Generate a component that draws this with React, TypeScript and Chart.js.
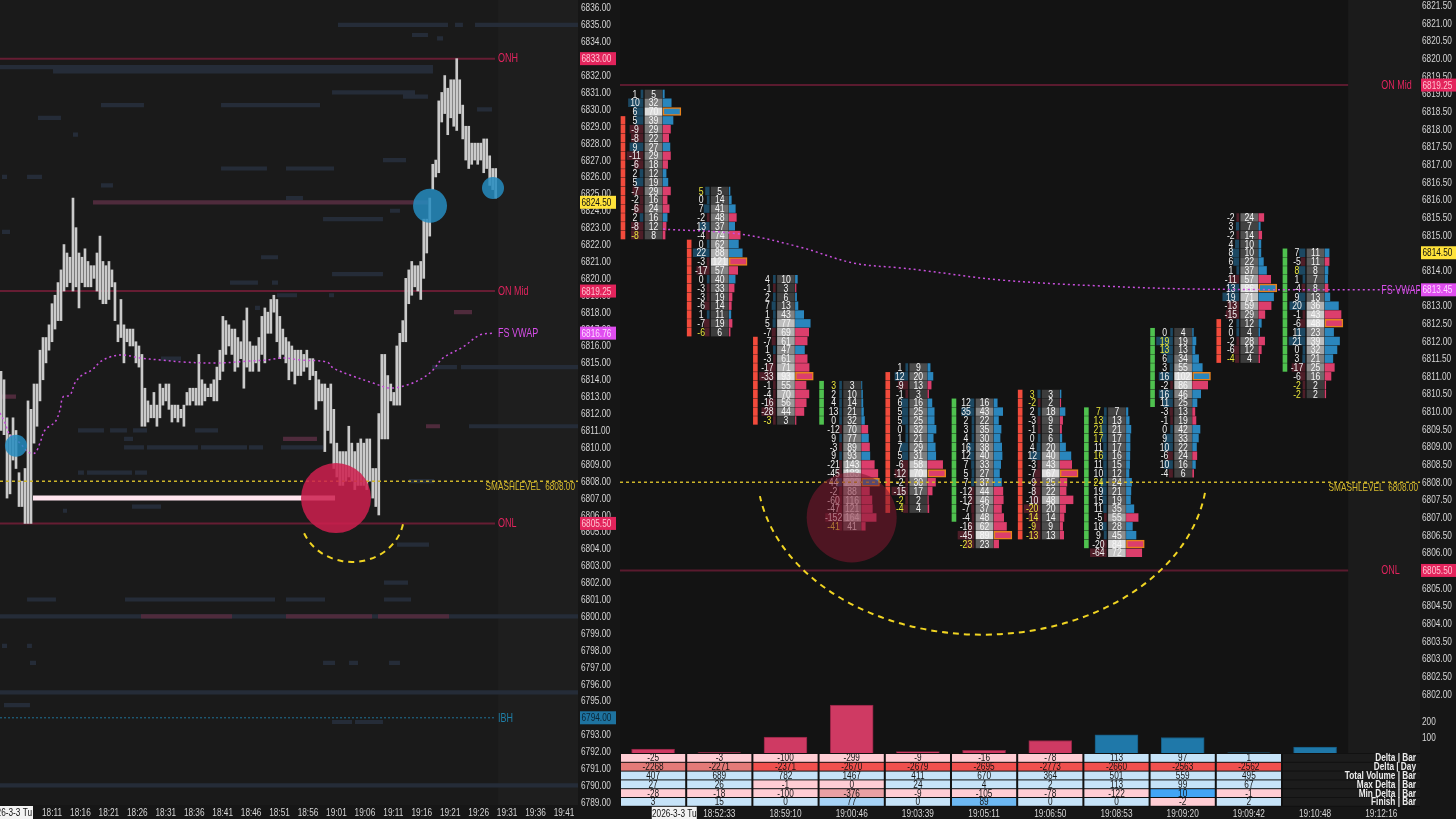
import React, { useEffect, useRef } from 'react';
import { Chart, registerables } from 'chart.js';

Chart.register(...registerables);

const FONT = '"Liberation Sans", Arial, sans-serif';
Chart.defaults.font.family = FONT;
const SX = 0.75; // horizontal squeeze to mimic the narrow platform font

// ================= LEFT PANEL DATA =================
const leftTimeLabels = ['18:11', '18:16', '18:21', '18:26', '18:31', '18:36', '18:41', '18:46', '18:51', '18:56', '19:01', '19:06', '19:11', '19:16', '19:21', '19:26', '19:31', '19:36', '19:41'];
const leftPriceTicks = [6789, 6790, 6791, 6792, 6793, 6794, 6795, 6796, 6797, 6798, 6799, 6800, 6801, 6802, 6803, 6804, 6805, 6806, 6807, 6808, 6809, 6810, 6811, 6812, 6813, 6814, 6815, 6816, 6817, 6818, 6819, 6820, 6821, 6822, 6823, 6824, 6825, 6826, 6827, 6828, 6829, 6830, 6831, 6832, 6833, 6834, 6835, 6836];
const leftFirstBarMinute = 2.04; // minutes after 18:00
const leftBarStepMinute = 0.527;
const leftHighs = [
  6814.5, 6814.0, 6811.75, 6810.75, 6811.75, 6811.0, 6808.5, 6808.0, 6808.75, 6812.75,
  6812.25, 6813.75, 6813.75, 6815.75, 6816.5, 6816.5, 6817.25, 6818.5, 6819.0, 6819.75,
  6820.5, 6822.0, 6821.5, 6821.25, 6824.75, 6823.0, 6821.5, 6821.25, 6821.75, 6821.0,
  6820.75, 6820.75, 6821.5, 6822.5, 6821.0, 6820.75, 6821.0, 6820.5, 6819.75, 6817.25,
  6818.75, 6817.25, 6817.0, 6817.0, 6817.0, 6816.25, 6816.0, 6815.5, 6813.5, 6812.75,
  6812.5, 6813.25, 6812.5, 6813.75, 6813.5, 6813.75, 6813.75, 6812.5, 6812.5, 6812.5,
  6812.25, 6812.5, 6813.25, 6813.5, 6813.5, 6813.5, 6815.5, 6814.0, 6813.75, 6813.5,
  6813.75, 6814.0, 6814.75, 6815.75, 6817.75, 6817.5, 6817.25, 6817.0, 6817.0, 6816.5,
  6816.25, 6817.5, 6818.25, 6816.25, 6816.0, 6816.0, 6816.5, 6817.75, 6818.25, 6818.0,
  6818.75, 6819.0, 6818.75, 6817.75, 6817.0, 6816.5, 6816.25, 6816.0, 6815.75, 6815.75,
  6815.75, 6815.5, 6815.75, 6815.25, 6815.25, 6814.5, 6814.0, 6813.75, 6813.75, 6813.5,
  6813.75, 6812.25, 6810.25, 6809.75, 6809.75, 6809.75, 6811.25, 6810.25, 6809.75, 6810.25,
  6810.5, 6810.25, 6810.5, 6810.5, 6808.75, 6808.75, 6812.0, 6815.5, 6815.5, 6814.25,
  6813.75, 6813.25, 6816.0, 6816.75, 6817.5, 6820.0, 6820.5, 6821.0, 6820.75, 6820.75,
  6821.0, 6823.5, 6823.5, 6824.75, 6826.75, 6827.0, 6830.5, 6831.0, 6832.0, 6831.25,
  6831.75, 6831.75, 6833.0, 6831.75, 6830.25, 6829.0, 6829.0, 6828.0, 6828.0, 6828.0,
  6828.0, 6828.25, 6828.25, 6827.25, 6826.5, 6826.5,
];
const leftLows = [
  6811.0, 6810.75, 6807.0, 6807.25, 6809.25, 6808.75, 6806.5, 6806.5, 6805.5, 6805.5,
  6805.5, 6810.25, 6811.25, 6812.75, 6814.0, 6815.0, 6815.75, 6816.25, 6817.0, 6817.5,
  6817.5, 6819.25, 6819.5, 6819.75, 6819.25, 6819.5, 6818.25, 6819.75, 6819.5, 6819.5,
  6819.5, 6820.0, 6819.25, 6818.75, 6818.5, 6818.5, 6818.75, 6819.5, 6817.5, 6816.25,
  6816.5, 6815.0, 6816.25, 6816.0, 6816.0, 6815.0, 6814.75, 6811.25, 6811.25, 6811.5,
  6811.75, 6811.75, 6811.25, 6811.75, 6812.5, 6812.75, 6812.25, 6811.5, 6811.75, 6811.5,
  6811.75, 6811.25, 6812.5, 6812.5, 6812.75, 6812.5, 6812.5, 6812.5, 6812.75, 6813.0,
  6813.0, 6812.75, 6812.75, 6814.0, 6814.5, 6815.5, 6816.0, 6815.5, 6814.5, 6814.75,
  6815.25, 6813.5, 6814.75, 6814.5, 6814.5, 6815.0, 6814.5, 6815.5, 6815.0, 6816.75,
  6816.75, 6818.0, 6816.25, 6815.25, 6815.5, 6815.0, 6814.0, 6814.5, 6813.75, 6814.25,
  6814.25, 6814.5, 6814.75, 6814.0, 6814.25, 6812.25, 6812.75, 6812.75, 6809.75, 6811.0,
  6810.25, 6808.75, 6808.25, 6807.75, 6807.75, 6808.0, 6808.25, 6808.0, 6807.5, 6807.75,
  6807.75, 6807.75, 6807.5, 6808.0, 6807.0, 6806.5, 6806.0, 6810.5, 6810.5, 6810.5,
  6812.75, 6812.5, 6812.5, 6812.5, 6816.25, 6816.25, 6818.5, 6819.0, 6819.5, 6819.25,
  6818.75, 6820.0, 6821.5, 6822.5, 6825.25, 6826.0, 6826.25, 6829.25, 6829.75, 6828.5,
  6829.5, 6829.0, 6828.75, 6829.75, 6828.25, 6827.0, 6826.5, 6826.75, 6827.0, 6826.75,
  6827.0, 6826.25, 6826.5, 6825.5, 6825.25, 6824.75,
];
const leftVwapMinutes = [1.86, 2.74, 3.62, 5.38, 6.78, 8.01, 8.89, 9.77, 11.53, 12.41, 12.93, 14.17, 15.04, 16.27, 18.03, 19.44, 21.2, 23.48, 26.47, 29.98, 34.03, 40.0, 45.8, 48.79, 51.6, 54.59, 59.34, 60.39, 63.38, 67.42, 70.41, 73.4, 76.21, 77.97, 79.73, 83.24, 86.23, 88.52];
const leftVwapPrices = [6812.04, 6811.44, 6810.73, 6810.26, 6809.73, 6809.67, 6810.26, 6811.03, 6811.5, 6812.21, 6812.98, 6813.1, 6813.81, 6814.28, 6814.58, 6815.05, 6815.35, 6815.47, 6815.29, 6815.17, 6815.05, 6814.99, 6815.11, 6815.17, 6815.29, 6815.17, 6815.05, 6814.7, 6814.28, 6813.81, 6813.51, 6813.69, 6814.11, 6814.58, 6815.29, 6815.94, 6816.65, 6816.76];
const leftLevelPrices = [6833.0, 6819.25, 6805.5];
const leftLevelNames = ['ONH', 'ON Mid', 'ONL'];
const ibhPrice = 6794.0;
const smashPrice = 6808.0;
const leftVwapLast = 6816.76;
const leftLastPrice = 6824.5;
const leftHighlightLine = [7.66, 60.75, 6807.0]; // from, to (minutes), price
const leftRedCircle = [60.92, 6807.0];
const leftBlueCircles = [[77.45, 6824.3, 17], [88.52, 6825.35, 11], [4.67, 6810.1, 11]];
const leftArc = [63.74, 6806.0, 9.14, 2.78]; // centre minute, centre price, half-width (min), half-height (pts)
// liquidity stripes: [price, from minute, to minute]
const leftSlateSegments = [
  [6835.0, 61.27, 80.61], [6835.0, 81.84, 83.24], [6835.0, 85.35, 103.46],
  [6834.4, 74.28, 77.09], [6834.2, 78.68, 79.73],
  [6832.5, 1.86, 77.97], [6832.25, 11.18, 77.97],
  [6831.0, 60.22, 74.81], [6830.75, 72.7, 77.09],
  [6830.25, 19.61, 27.17], [6830.25, 40.71, 58.11],
  [6830.0, 85.71, 88.34], [6829.5, 8.54, 12.58], [6828.5, 14.69, 15.57],
  [6827.0, 69.18, 73.23],
  [6826.5, 40.71, 48.79], [6826.5, 52.13, 60.57],
  [6826.0, 2.21, 3.09], [6826.0, 6.61, 9.24], [6825.5, 19.61, 21.72],
  [6824.75, 52.13, 55.12], [6824.0, 70.41, 72.17], [6823.5, 58.64, 69.18],
  [6822.75, 2.21, 3.62], [6821.25, 47.74, 50.73], [6820.25, 60.22, 69.18],
  [6819.75, 42.29, 47.21], [6819.75, 49.67, 50.73],
  [6819.0, 50.55, 54.07], [6819.0, 59.69, 60.57], [6818.25, 46.68, 47.56],
  [6815.25, 30.16, 33.68],
  [6814.75, 77.8, 82.19], [6814.75, 82.89, 103.46],
  [6811.25, 84.3, 103.46],
  [6811.0, 15.57, 20.14], [6811.0, 21.2, 24.18], [6811.0, 25.24, 27.7], [6811.0, 36.14, 40.18],
  [6810.5, 23.66, 25.24],
  [6810.0, 23.66, 27.17], [6810.0, 27.7, 36.66], [6810.0, 37.19, 45.28], [6810.0, 45.63, 48.09], [6810.0, 51.25, 58.64],
  [6808.5, 15.57, 16.62], [6808.5, 17.15, 25.06], [6808.5, 25.59, 27.7],
  [6808.0, 73.75, 78.15], [6806.5, 25.06, 30.16], [6806.25, 12.93, 13.64],
  [6804.25, 71.64, 77.27], [6802.0, 69.36, 73.58],
  [6801.0, 6.61, 11.7], [6801.0, 23.83, 50.2], [6801.0, 52.13, 58.99], [6801.0, 69.36, 74.11],
  [6800.0, 1.86, 103.46],
  [6798.25, 2.21, 3.09], [6798.25, 6.61, 7.48],
  [6797.25, 7.13, 8.19], [6797.25, 58.64, 60.75], [6797.25, 63.21, 64.79], [6797.25, 70.24, 72.17],
  [6795.5, 1.86, 103.46], [6794.75, 2.56, 7.13],
  [6793.75, 60.22, 63.74], [6793.75, 64.26, 69.18],
  [6790.0, 1.86, 103.46],
];
const leftPinkSegments = [
  [6824.5, 18.21, 77.09], [6818.0, 81.66, 84.83], [6813.0, 1.86, 4.67], [6811.25, 76.74, 79.2],
  [6810.5, 51.61, 57.58], [6800.0, 26.64, 42.64], [6800.0, 52.13, 67.25], [6800.0, 68.3, 80.79],
];

// ================= RIGHT PANEL DATA (footprint) =================
const rightPriceTicks = [6802, 6802.5, 6803, 6803.5, 6804, 6804.5, 6805, 6805.5, 6806, 6806.5, 6807, 6807.5, 6808, 6808.5, 6809, 6809.5, 6810, 6810.5, 6811, 6811.5, 6812, 6812.5, 6813, 6813.5, 6814, 6814.5, 6815, 6815.5, 6816, 6816.5, 6817, 6817.5, 6818, 6818.5, 6819, 6819.5, 6820, 6820.5, 6821, 6821.5];
const rightTimeLabels = ['2026-3-3 Tu', '18:52:33', '18:59:10', '19:00:46', '19:03:39', '19:05:11', '19:06:50', '19:08:53', '19:09:20', '19:09:42', '19:10:48', '19:12:16'];
const fpTopPrices = [6819.0, 6816.25, 6813.75, 6810.75, 6811.25, 6810.25, 6810.5, 6810.0, 6812.25, 6815.5, 6814.5];
const fpDeltas = [
  [1, 10, 6, 5, -9, -8, 9, -11, -6, 2, 5, -7, -2, -6, 2, -8, -8],
  [5, 0, 7, -2, 13, -4, 0, 22, -3, -17, 0, -3, -3, -6, 1, -7, -6],
  [4, -1, 2, 7, 1, 5, -7, -7, 1, -3, -17, -33, -1, -4, -16, -28, -3],
  [3, 2, 4, 13, 0, -12, 9, -3, 9, -21, -45, 44, -2, -60, -47, -152, -41],
  [1, 12, -9, -1, 6, 5, 5, 0, 1, 7, 5, -6, -12, -2, -15, -2, -4],
  [12, 35, 2, 3, 4, 16, 12, 7, 5, 7, -12, -12, -7, -4, -16, -45, -23],
  [3, -2, 2, -3, -1, 0, 4, 12, -3, -7, -9, -8, -10, -20, -14, -9, -13],
  [7, 13, 21, 17, 11, 16, 11, 10, 24, 19, 15, 11, -5, 18, 9, -20, -64],
  [0, 19, 13, 6, 3, 16, -2, 16, 11, -3, -1, 0, 9, 10, -6, 10, -4],
  [-2, 3, -2, 4, 8, 6, 1, -11, 13, 19, -13, -15, 2, 0, -2, -6, -4],
  [7, -5, 8, 1, -4, 9, 20, -1, -6, 11, 21, 0, 3, -17, -6, -2, -2],
];
const fpVolumes = [
  [5, 32, 70, 39, 29, 22, 27, 29, 18, 12, 19, 29, 16, 24, 16, 12, 8],
  [5, 14, 41, 48, 37, 74, 62, 88, 121, 57, 40, 33, 19, 14, 11, 19, 6],
  [10, 3, 6, 13, 43, 77, 69, 61, 47, 61, 71, 93, 55, 70, 56, 44, 3],
  [3, 10, 14, 21, 32, 70, 77, 89, 93, 143, 183, 202, 88, 116, 121, 164, 41],
  [9, 20, 13, 3, 16, 25, 25, 32, 21, 29, 31, 58, 70, 30, 17, 2, 4],
  [16, 43, 22, 35, 30, 38, 40, 33, 27, 37, 44, 46, 37, 48, 62, 89, 23],
  [3, 2, 18, 9, 5, 6, 20, 40, 43, 67, 25, 22, 48, 20, 14, 9, 13],
  [7, 13, 21, 17, 17, 16, 15, 12, 24, 21, 19, 35, 55, 28, 45, 84, 72],
  [4, 19, 13, 34, 55, 102, 86, 46, 25, 13, 19, 42, 33, 22, 24, 16, 6],
  [24, 7, 14, 10, 10, 22, 37, 57, 86, 71, 59, 29, 12, 4, 28, 12, 4],
  [11, 11, 8, 7, 8, 13, 36, 43, 48, 23, 39, 32, 21, 25, 16, 2, 2],
];
const fpStripTop = [6818.25, 6814.75, 6812.0, 6810.75, 6811.0, 6810.25, 6810.5, 6810.0, 6812.25, 6812.5, 6814.5];
const fpStripBottom = [6815.0, 6812.25, 6809.75, 6809.75, 6807.25, 6807.0, 6806.5, 6806.25, 6810.25, 6811.5, 6811.25];
const fpStripUp = [false, false, false, true, false, true, false, true, true, false, true];
const rightVwapCols = [0.65, 1.81, 2.72, 3.52, 4.23, 4.53, 5.74, 7.25, 8.76, 12.085];
const rightVwapPrices = [6815.17, 6815.03, 6814.66, 6814.21, 6814.07, 6814.01, 6813.73, 6813.56, 6813.47, 6813.45];
const rightLevelPrices = [6819.25, 6805.5];
const rightLevelNames = ['ON Mid', 'ONL'];
const rightVwapLast = 6813.45;
const rightLastPrice = 6814.5;
const rightCircle = [3.5, 6807.0];
const rightArc = [5.47, 6808.35, 3.4, 4.67];

// bottom study + table
const barDeltas = [-25, -3, -100, -299, -9, -16, -78, 113, 97, 1, 37];
const tblDeltaBar = [-25, -3, -100, -299, -9, -16, -78, 113, 97, 1];
const tblDeltaDay = [-2268, -2271, -2371, -2670, -2679, -2695, -2773, -2660, -2563, -2562];
const tblTotalVolume = [407, 689, 782, 1467, 411, 670, 364, 501, 559, 495];
const tblMaxDelta = [27, 26, -1, 0, 24, 4, 2, 113, 99, 67];
const tblMinDelta = [-28, -18, -100, -376, -9, -105, -78, -122, 10, -1];
const tblFinish = [3, 15, 0, 77, 0, 89, 0, 0, -2, 2];
const tblRowNames = ['Delta | Bar', 'Delta | Day', 'Total Volume | Bar', 'Max Delta | Bar', 'Min Delta | Bar', 'Finish | Bar'];
const studyTicks = [100, 200];

// ================= GEOMETRY / STYLE =================
const LX_MIN = 1.86, LX_MAX = 103.46, LY_MIN = 6788.84, LY_MAX = 6836.47;
const L_LEVEL_END = 88.87, L_LABEL_AT = 89.4;
const RX_MAX = 12.085, RY_MIN = 6801.83, RY_MAX = 6821.66;
const R_FUTURE = 11;
const ROW = 0.25;
const CELL = { stripL: 0.015, stripR: 0.075, deltaL: 0.106, deltaR: 0.347, volL: 0.378, volR: 0.635, barL: 0.65, barW: 0.27 };
const C = {
  axisBg: '#161616', leftBg: '#1a1a1a', leftFuture: '#1e1e1e', rightBg: '#131313', rightFuture: '#1b1b1b',
  level: '#661d33', levelText: '#e0245e', smash: '#cdb52a', smashText: '#d6ba2e', vwap: '#c84fdc', vwapText: '#d64ee8',
  ibh: '#1f7196', tick: '#d6d6d6',
};
const LAYOUT = { padding: 0, autoPadding: false };
const HIDDEN_TICKS = { display: false };

const toMin = (t) => { const [h, m] = t.split(':').map(Number); return (h - 18) * 60 + m; };
const zeroPad = (s) => { s.paddingLeft = 0; s.paddingRight = 0; s.paddingTop = 0; s.paddingBottom = 0; };

// narrow text helper
function ntext(ctx, text, x, y, align, size, color, weight = '') {
  ctx.save();
  ctx.font = `${weight} ${size}px ${FONT}`;
  ctx.fillStyle = color;
  ctx.textAlign = align;
  ctx.textBaseline = 'middle';
  ctx.translate(x, y);
  ctx.scale(SX, 1);
  ctx.fillText(text, 0, 0);
  ctx.restore();
}

const lineDs = (data, color, width, dash, order, extra = {}) => ({
  type: 'line', data, borderColor: color, borderWidth: width, borderDash: dash, pointRadius: 0,
  fill: false, spanGaps: false, order, borderCapStyle: 'butt', ...extra,
});

function axisBox(ctx, x, y, w, text, bg, fg) {
  ctx.fillStyle = bg;
  ctx.fillRect(x, y - 6.5, w, 13);
  ntext(ctx, text, x + 1.5, y + 0.5, 'left', 11, fg);
}

function yTickLabels(ctx, scale, x) {
  scale.ticks.forEach((t) => ntext(ctx, Number(t.value).toFixed(2), x, scale.getPixelForValue(t.value) + 0.5, 'left', 11, C.tick));
}

function dashedArc(ctx, xs, ys, arc, a0, a1) {
  const [cx, cy, hw, hh] = arc;
  const px = xs.getPixelForValue(cx), py = ys.getPixelForValue(cy);
  const rx = Math.abs(xs.getPixelForValue(cx + hw) - px);
  const ry = Math.abs(ys.getPixelForValue(cy - hh) - py);
  ctx.save();
  ctx.strokeStyle = '#f0d422';
  ctx.lineWidth = 2;
  ctx.setLineDash([6, 5]);
  ctx.beginPath();
  ctx.ellipse(px, py, rx, ry, 0, a0, a1);
  ctx.stroke();
  ctx.restore();
}

// ================= LEFT CHART =================
function leftConfig() {
  const bars = leftHighs.map((h, i) => ({ x: leftFirstBarMinute + i * leftBarStepMinute, y: [leftLows[i], h] }));
  const seg = (list) => list.flatMap(([p, a, b]) => [{ x: a, y: p }, { x: b, y: p }, { x: b, y: null }]);
  const vwap = leftVwapMinutes.map((m, i) => ({ x: m, y: leftVwapPrices[i] }));
  const plugin = {
    id: 'leftDecor',
    beforeDraw(chart) {
      const { ctx, chartArea: a, scales: { x } } = chart;
      ctx.save();
      ctx.fillStyle = C.axisBg; ctx.fillRect(0, 0, chart.width, chart.height);
      ctx.fillStyle = C.leftBg; ctx.fillRect(a.left, a.top, a.width, a.height);
      const fx = x.getPixelForValue(L_LABEL_AT);
      ctx.fillStyle = C.leftFuture; ctx.fillRect(fx, a.top, a.right - fx, a.height);
      ctx.restore();
    },
    afterDatasetsDraw(chart) {
      const { ctx, chartArea: a, scales: { x, y } } = chart;
      dashedArc(ctx, x, y, leftArc, 0.2, Math.PI - 0.35);
      const lx = x.getPixelForValue(L_LABEL_AT);
      leftLevelPrices.forEach((p, i) => ntext(ctx, leftLevelNames[i], lx, y.getPixelForValue(p) + 0.5, 'left', 12, C.levelText));
      ntext(ctx, 'FS VWAP', lx, y.getPixelForValue(leftVwapLast) + 0.5, 'left', 12, C.vwapText);
      ntext(ctx, 'IBH', lx, y.getPixelForValue(ibhPrice) + 0.5, 'left', 12, '#1f7fa8');
      ntext(ctx, 'SMASHLEVEL  ' + smashPrice.toFixed(2), a.right - 3, y.getPixelForValue(smashPrice) + 6, 'right', 11, C.smashText);
    },
    afterDraw(chart) {
      const { ctx, chartArea: a, scales: { x, y } } = chart;
      ctx.save();
      ctx.fillStyle = C.axisBg; ctx.fillRect(a.right, 0, chart.width - a.right, chart.height);
      ctx.restore();
      yTickLabels(ctx, y, a.right + 3);
      x.ticks.forEach((t) => {
        const lbl = leftTimeLabels.find((s) => toMin(s) === t.value) || '';
        ntext(ctx, lbl, x.getPixelForValue(t.value), a.bottom + 8, 'center', 11, C.tick);
      });
      const bx = a.right + 2;
      axisBox(ctx, bx, y.getPixelForValue(leftLevelPrices[0]), 36, leftLevelPrices[0].toFixed(2), '#e3245c', '#ffc2d1');
      axisBox(ctx, bx, y.getPixelForValue(leftLastPrice), 36, leftLastPrice.toFixed(2), '#ffe23a', '#111111');
      axisBox(ctx, bx, y.getPixelForValue(leftLevelPrices[1]), 36, leftLevelPrices[1].toFixed(2), '#e3245c', '#ffc2d1');
      axisBox(ctx, bx, y.getPixelForValue(leftVwapLast), 36, leftVwapLast.toFixed(2), '#e04ef0', '#ffd8ff');
      axisBox(ctx, bx, y.getPixelForValue(leftLevelPrices[2]), 36, leftLevelPrices[2].toFixed(2), '#e3245c', '#ffc2d1');
      axisBox(ctx, bx, y.getPixelForValue(ibhPrice), 36, ibhPrice.toFixed(2), '#1e73a0', '#0b2433');
      // date box on the time axis
      ctx.save();
      ctx.fillStyle = '#f2f2f2'; ctx.fillRect(0, a.bottom + 1, 33, 13);
      ctx.restore();
      ntext(ctx, '2026-3-3 Tu', 32, a.bottom + 8, 'right', 11, '#111111');
    },
  };
  return {
    type: 'bar',
    data: {
      datasets: [
        { type: 'bubble', data: [{ x: leftRedCircle[0], y: leftRedCircle[1], r: 35 }], backgroundColor: 'rgba(205,32,78,0.86)', borderWidth: 0, order: 0 },
        { type: 'bubble', data: leftBlueCircles.map(([m, p, r]) => ({ x: m, y: p, r })), backgroundColor: 'rgba(38,140,192,0.85)', borderWidth: 0, order: 0 },
        lineDs([{ x: leftHighlightLine[0], y: leftHighlightLine[2] }, { x: leftHighlightLine[1], y: leftHighlightLine[2] }], '#ffe4ee', 5, [], 1),
        lineDs([{ x: LX_MIN, y: smashPrice }, { x: LX_MAX, y: smashPrice }], C.smash, 1.5, [3, 3], 2),
        lineDs(vwap, C.vwap, 1.5, [2, 3], 3, { tension: 0.35 }),
        { type: 'bar', data: bars, backgroundColor: '#cacaca', barThickness: 2, grouped: false, order: 4 },
        ...leftLevelPrices.map((p) => lineDs([{ x: LX_MIN, y: p }, { x: L_LEVEL_END, y: p }], C.level, 2, [], 5)),
        lineDs([{ x: LX_MIN, y: ibhPrice }, { x: L_LEVEL_END, y: ibhPrice }], C.ibh, 1, [2, 2], 6),
        lineDs(seg(leftPinkSegments), '#4f2b3c', 4.2, [], 7),
        lineDs(seg(leftSlateSegments), '#252c38', 4.2, [], 8),
      ],
    },
    options: {
      responsive: false, animation: false, devicePixelRatio: 1, events: [],
      layout: LAYOUT,
      plugins: { legend: { display: false }, tooltip: { enabled: false } },
      scales: {
        x: {
          type: 'linear', min: LX_MIN, max: LX_MAX, offset: false,
          grid: { display: false, drawTicks: false }, border: { display: false }, ticks: HIDDEN_TICKS,
          afterBuildTicks: (s) => { s.ticks = leftTimeLabels.map((t) => ({ value: toMin(t) })); },
          afterFit: (s) => { s.height = 14; zeroPad(s); },
        },
        y: {
          type: 'linear', position: 'right', min: LY_MIN, max: LY_MAX, offset: false,
          grid: { display: false, drawTicks: false }, border: { display: false }, ticks: HIDDEN_TICKS,
          afterBuildTicks: (s) => { s.ticks = leftPriceTicks.map((v) => ({ value: v })); },
          afterFit: (s) => { s.width = 42; zeroPad(s); },
        },
      },
    },
    plugins: [plugin],
  };
}

// ================= RIGHT CHART (footprint) =================
function buildFootprint() {
  const strips = [], deltaBg = [], volCells = [], volBars = [];
  fpTopPrices.forEach((top, c) => {
    const d = fpDeltas[c], v = fpVolumes[c];
    const maxV = Math.max(...v), maxD = Math.max(...d.map(Math.abs));
    v.forEach((vol, r) => {
      const price = top - r * ROW;
      const dw = Math.max(0.03, (Math.abs(d[r]) / maxD) * (CELL.deltaR - CELL.deltaL));
      deltaBg.push({ y: price, x: [c + CELL.deltaR - dw, c + CELL.deltaR], pos: d[r] >= 0 });
      volCells.push({ y: price, x: [c + CELL.volL, c + CELL.volR], shade: vol / maxV });
      volBars.push({ y: price, x: [c + CELL.barL, c + CELL.barL + (vol / maxV) * CELL.barW], pos: d[r] >= 0, max: vol === maxV });
    });
    for (let p = fpStripTop[c]; p >= fpStripBottom[c] - 1e-6; p -= ROW) {
      strips.push({ y: p, x: [c + CELL.stripL, c + CELL.stripR], up: fpStripUp[c] });
    }
  });
  return { strips, deltaBg, volCells, volBars };
}

function rightConfig() {
  const fp = buildFootprint();
  const raw = (c) => (c && c.raw) || {};
  const hbar = (label, data, bg, order, extra = {}) => ({
    type: 'bar', label, indexAxis: 'y', data, backgroundColor: bg, barThickness: 7.8, grouped: false,
    borderSkipped: false, borderWidth: 0, order, ...extra,
  });
  const plugin = {
    id: 'rightDecor',
    beforeDraw(chart) {
      const { ctx, chartArea: a, scales: { x } } = chart;
      ctx.save();
      ctx.fillStyle = C.axisBg; ctx.fillRect(0, 0, chart.width, chart.height);
      ctx.fillStyle = C.rightBg; ctx.fillRect(a.left, a.top, a.width, a.height);
      const fx = x.getPixelForValue(R_FUTURE);
      ctx.fillStyle = C.rightFuture; ctx.fillRect(fx, a.top, a.right - fx, a.height);
      ctx.restore();
    },
    afterDatasetDraw(chart, args) {
      if (chart.data.datasets[args.index].label !== 'volBars') return;
      const { ctx, chartArea: a, scales: { x, y } } = chart;
      ctx.save();
      ctx.beginPath(); ctx.rect(a.left, a.top, a.width, a.height); ctx.clip();
      fpTopPrices.forEach((top, c) => {
        fpVolumes[c].forEach((v, r) => {
          const d = fpDeltas[c][r];
          const py = y.getPixelForValue(top - r * ROW) + 0.5;
          ntext(ctx, String(d), x.getPixelForValue(c + (CELL.deltaL + CELL.deltaR) / 2), py, 'center', 11.5, Math.abs(d) === v ? '#e8e43c' : '#f0f0f0');
          ntext(ctx, String(v), x.getPixelForValue(c + (CELL.volL + CELL.volR) / 2), py, 'center', 11.5, '#f6f6f6');
        });
      });
      ctx.restore();
    },
    afterDatasetsDraw(chart) {
      const { ctx, chartArea: a, scales: { x, y } } = chart;
      dashedArc(ctx, x, y, rightArc, 0.14, Math.PI - 0.16);
      const lx = x.getPixelForValue(R_FUTURE + 0.5);
      rightLevelPrices.forEach((p, i) => ntext(ctx, rightLevelNames[i], lx, y.getPixelForValue(p) + 0.5, 'left', 12, C.levelText));
      ntext(ctx, 'FS VWAP', lx, y.getPixelForValue(rightVwapLast) + 0.5, 'left', 12, C.vwapText);
      ntext(ctx, 'SMASHLEVEL  ' + smashPrice.toFixed(2), a.right - 2, y.getPixelForValue(smashPrice) + 6, 'right', 11, C.smashText);
    },
    afterDraw(chart) {
      const { ctx, chartArea: a, scales: { y } } = chart;
      ctx.save();
      ctx.fillStyle = C.axisBg; ctx.fillRect(a.right, 0, chart.width - a.right, chart.height);
      ctx.restore();
      yTickLabels(ctx, y, a.right + 2);
      const bx = a.right + 1;
      axisBox(ctx, bx, y.getPixelForValue(rightLevelPrices[0]), 35, rightLevelPrices[0].toFixed(2), '#e3245c', '#ffc2d1');
      axisBox(ctx, bx, y.getPixelForValue(rightLastPrice), 35, rightLastPrice.toFixed(2), '#ffe23a', '#111111');
      axisBox(ctx, bx, y.getPixelForValue(rightVwapLast), 35, rightVwapLast.toFixed(2), '#e04ef0', '#ffd8ff');
      axisBox(ctx, bx, y.getPixelForValue(rightLevelPrices[1]), 35, rightLevelPrices[1].toFixed(2), '#e3245c', '#ffc2d1');
    },
  };
  return {
    type: 'bar',
    data: {
      datasets: [
        { type: 'bubble', label: 'circle', data: [{ x: rightCircle[0], y: rightCircle[1], r: 45 }], backgroundColor: 'rgba(128,24,48,0.55)', borderWidth: 0, order: 0 },
        lineDs([{ x: 0, y: smashPrice }, { x: RX_MAX, y: smashPrice }], C.smash, 1.5, [3, 3], 1),
        lineDs(rightVwapCols.map((c, i) => ({ x: c, y: rightVwapPrices[i] })), C.vwap, 1.5, [2, 3], 2, { tension: 0.35 }),
        ...rightLevelPrices.map((p) => lineDs([{ x: 0, y: p }, { x: R_FUTURE, y: p }], '#5a1a2e', 2, [], 3)),
        hbar('volBars', fp.volBars, (c) => (raw(c).pos ? '#2a86bd' : '#dc3e6c'), 4, {
          borderColor: (c) => (raw(c).max ? '#e8821c' : 'rgba(0,0,0,0)'),
          borderWidth: (c) => (raw(c).max ? 1.5 : 0),
        }),
        hbar('volCells', fp.volCells, (c) => { const g = Math.round(52 + 168 * (raw(c).shade || 0)); return `rgb(${g},${g},${g})`; }, 5),
        hbar('deltaBg', fp.deltaBg, (c) => (raw(c).pos ? '#1c4862' : '#4e1e28'), 6),
        hbar('strips', fp.strips, (c) => (raw(c).up ? '#4fc24f' : '#f24b3c'), 7),
      ],
    },
    options: {
      responsive: false, animation: false, devicePixelRatio: 1, events: [],
      layout: LAYOUT,
      plugins: { legend: { display: false }, tooltip: { enabled: false } },
      scales: {
        x: { type: 'linear', min: 0, max: RX_MAX, offset: false, display: false, grid: { display: false } },
        y: {
          type: 'linear', position: 'right', min: RY_MIN, max: RY_MAX, offset: false,
          grid: { display: false, drawTicks: false }, border: { display: false }, ticks: HIDDEN_TICKS,
          afterBuildTicks: (s) => { s.ticks = rightPriceTicks.map((v) => ({ value: v })); },
          afterFit: (s) => { s.width = 36; zeroPad(s); },
        },
      },
    },
    plugins: [plugin],
  };
}

// ================= BOTTOM CHART (delta study + table) =================
function cellColor(row, v) {
  const blue = '#c6e3f8', pink = '#ffcdd4';
  switch (row) {
    case 0: return v < 0 ? pink : blue;
    case 1: return v > -2300 ? '#e47a78' : '#f0504e';
    case 2: return blue;
    case 3: return v > 0 ? blue : pink;
    case 4: return v > 0 ? '#42a5f5' : v < -300 ? '#e9a0a4' : pink;
    default: return v < 0 ? pink : v > 80 ? '#6db8f2' : v > 50 ? '#a6d3f6' : blue;
  }
}

function bottomConfig() {
  const tableValues = [tblDeltaBar, tblDeltaDay, tblTotalVolume, tblMaxDelta, tblMinDelta, tblFinish];
  const RH = 8.8;
  const plugin = {
    id: 'bottomDecor',
    beforeDraw(chart) {
      const { ctx, chartArea: a, scales: { x } } = chart;
      ctx.save();
      ctx.fillStyle = C.axisBg; ctx.fillRect(0, 0, chart.width, chart.height);
      ctx.fillStyle = C.rightBg; ctx.fillRect(a.left, a.top, a.width, a.height);
      const fx = x.getPixelForValue(R_FUTURE);
      ctx.fillStyle = C.rightFuture; ctx.fillRect(fx, a.top, a.right - fx, a.height);
      ctx.fillStyle = '#111111'; ctx.fillRect(a.left, a.bottom, a.width, RH * 6 + 1);
      ctx.restore();
    },
    afterDraw(chart) {
      const { ctx, chartArea: a, scales: { x, y } } = chart;
      y.ticks.forEach((t) => ntext(ctx, String(t.value), a.right + 2, y.getPixelForValue(t.value) + 0.5, 'left', 11, C.tick));
      const top0 = a.bottom + 0.5;
      tableValues.forEach((vals, r) => {
        const ty = top0 + r * RH;
        vals.forEach((v, c) => {
          const x0 = x.getPixelForValue(c), x1 = x.getPixelForValue(c + 1);
          ctx.save();
          ctx.fillStyle = cellColor(r, v);
          ctx.fillRect(x0 + 1, ty + 0.5, x1 - x0 - 2, RH - 1);
          ctx.restore();
          ntext(ctx, String(v), (x0 + x1) / 2, ty + RH / 2 + 0.5, 'center', 11, '#141414');
        });
        const lx0 = x.getPixelForValue(vals.length);
        ctx.save();
        ctx.fillStyle = '#1c1c1c';
        ctx.fillRect(lx0 + 1, ty + 0.5, a.right - lx0 - 1, RH - 1);
        ctx.restore();
        ntext(ctx, tblRowNames[r], a.right - 4, ty + RH / 2 + 0.5, 'right', 11, '#ececec', 'bold');
      });
      // time axis
      const ly = top0 + RH * 6 + 7;
      rightTimeLabels.forEach((t, i) => {
        if (i === 0) {
          const bx = x.getPixelForValue(0.48);
          ctx.save();
          ctx.fillStyle = '#f2f2f2'; ctx.fillRect(bx, ly - 6.5, 45, 13);
          ctx.restore();
          ntext(ctx, t, bx + 22.5, ly + 0.5, 'center', 11, '#111111');
        } else {
          ntext(ctx, t, x.getPixelForValue(i + 0.5), ly + 0.5, 'center', 11, C.tick);
        }
      });
    },
  };
  return {
    type: 'bar',
    data: {
      datasets: [{
        type: 'bar',
        data: barDeltas.map((d, i) => ({ x: i + 0.5, y: Math.abs(d) })),
        backgroundColor: barDeltas.map((d) => (d < 0 ? '#cf3a63' : '#1f78a9')),
        borderColor: barDeltas.map((d) => (d < 0 ? '#8e2443' : '#165a80')),
        borderWidth: 1, borderSkipped: 'bottom', barThickness: 43, grouped: false,
      }],
    },
    options: {
      responsive: false, animation: false, devicePixelRatio: 1, events: [],
      layout: { padding: { left: 0, right: 0, top: 0, bottom: 66 }, autoPadding: false },
      plugins: { legend: { display: false }, tooltip: { enabled: false } },
      scales: {
        x: { type: 'linear', min: 0, max: RX_MAX, offset: false, display: false, grid: { display: false } },
        y: {
          type: 'linear', position: 'right', min: 0, max: 331, offset: false,
          grid: { display: false, drawTicks: false }, border: { display: false }, ticks: HIDDEN_TICKS,
          afterBuildTicks: (s) => { s.ticks = studyTicks.map((v) => ({ value: v })); },
          afterFit: (s) => { s.width = 36; zeroPad(s); },
        },
      },
    },
    plugins: [plugin],
  };
}

export default function App() {
  const leftRef = useRef(null);
  const rightRef = useRef(null);
  const bottomRef = useRef(null);
  useEffect(() => {
    document.body.style.margin = '0';
    document.body.style.background = C.axisBg;
    const charts = [
      new Chart(leftRef.current, leftConfig() as any),
      new Chart(rightRef.current, rightConfig() as any),
      new Chart(bottomRef.current, bottomConfig() as any),
    ];
    return () => charts.forEach((c) => c.destroy());
  }, []);
  return (
    <div style={{ position: 'fixed', left: 0, top: 0, width: 1456, height: 819, background: C.axisBg, overflow: 'hidden' }}>
      <canvas ref={leftRef} width={620} height={819} style={{ position: 'absolute', left: 0, top: 0, width: 620, height: 819 }} />
      <canvas ref={rightRef} width={836} height={700} style={{ position: 'absolute', left: 620, top: 0, width: 836, height: 700 }} />
      <canvas ref={bottomRef} width={836} height={119} style={{ position: 'absolute', left: 620, top: 700, width: 836, height: 119 }} />
    </div>
  );
}
